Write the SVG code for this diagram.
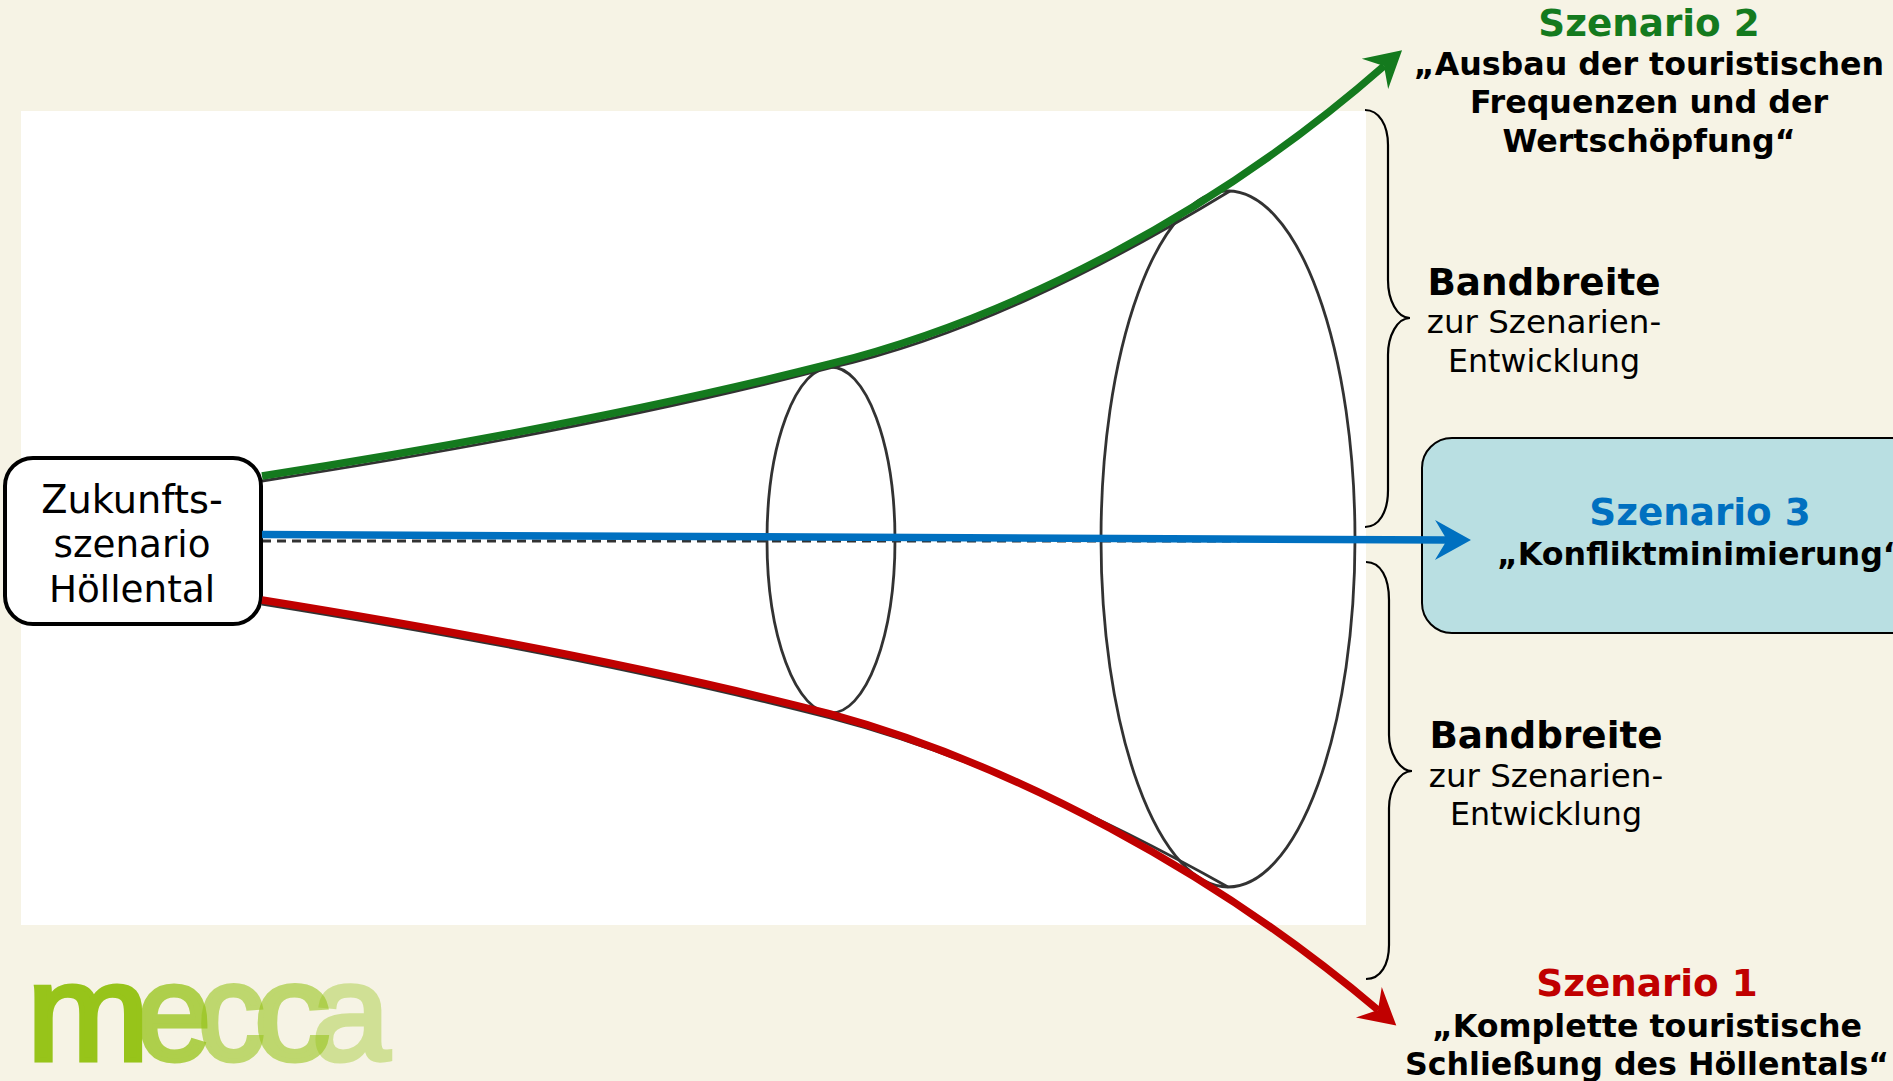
<svg xmlns="http://www.w3.org/2000/svg" width="1893" height="1081" viewBox="0 0 1893 1081">
<style>
text{font-family:"DejaVu Sans",Verdana,sans-serif;text-anchor:middle;fill:#000}
.h{font-size:37.300px;font-weight:700}
.b{font-size:31.700px;font-weight:700}
.r{font-size:32.500px}
.r2{font-size:31.700px}
.n{font-size:37.300px}
.box{stroke:#000}
.cone{fill:none;stroke:#333;stroke-width:2.800}
.brace{fill:none;stroke:#000;stroke-width:2.200}
.conn{fill:none;stroke-width:7.500}
.logo{font-family:"Liberation Sans",Arial,sans-serif;font-size:137px;text-anchor:start;stroke-width:5px;fill:#97C41A;stroke:#97C41A}
</style>
<defs>
<filter id="soft" x="-5%" y="-5%" width="110%" height="110%"><feGaussianBlur stdDeviation="0.6"/></filter>
<marker id="hg" markerUnits="userSpaceOnUse" markerWidth="40" markerHeight="44" refX="13" refY="22" orient="auto"><path d="M1,2 L37,22 L1,42 L13,22 Z" fill="#147A1E"/></marker>
<marker id="hb" markerUnits="userSpaceOnUse" markerWidth="40" markerHeight="44" refX="13" refY="22" orient="auto"><path d="M1,2 L37,22 L1,42 L13,22 Z" fill="#0070C0"/></marker>
<marker id="hr" markerUnits="userSpaceOnUse" markerWidth="40" markerHeight="44" refX="13" refY="22" orient="auto"><path d="M1,2 L37,22 L1,42 L13,22 Z" fill="#C00000"/></marker>
</defs>
<rect width="1893" height="1081" fill="#F6F3E5"/>
<rect x="21" y="111" width="1345" height="814" fill="#fff"/>
<g id="funnel" filter="url(#soft)">
<ellipse class="cone" cx="831" cy="540" rx="64" ry="173"/>
<ellipse class="cone" cx="1228" cy="539" rx="127" ry="348"/>
<path class="cone" d="M262,481 C480,447 680,407 830,368 C960,338 1090,276 1230,191"/>
<path class="cone" d="M262,604 C480,639 680,679 830,718 C960,752 1100,815 1228,887"/>
<path class="cone" stroke-dasharray="9 6" d="M262,541 L1240,541"/>
</g>
<g id="braces">
<path class="brace" d="M1365,110 C1379,110 1388,125 1388,145 L1388,280 C1388,300 1397,318 1410,318 C1397,318 1388,336 1388,355 L1388,490 C1388,512 1379,527 1365,527"/>
<path class="brace" d="M1366,562 C1381,562 1389,578 1389,600 L1389,735 C1389,752 1399,771 1412,771 C1399,771 1389,790 1389,808 L1389,945 C1389,964 1381,979 1366,979"/>
</g>
<g id="node-start">
<rect class="box" x="5" y="458" width="256" height="166" rx="28" fill="#fff" stroke-width="4"/>
<text class="n" x="132" y="513" style="font-size:38.300px">Zukunfts-</text>
<text class="n" x="132" y="557">szenario</text>
<text class="n" x="132" y="602">Höllental</text>
</g>
<g id="node-szenario2">
<text class="h" x="1649" y="36" style="fill:#147A1E">Szenario 2</text>
<text class="b" x="1649" y="75">„Ausbau der touristischen</text>
<text class="b" x="1649" y="113">Frequenzen und der</text>
<text class="b" x="1649" y="152">Wertschöpfung“</text>
</g>
<g id="bandbreite-oben">
<text class="h" x="1544" y="295">Bandbreite</text>
<text class="r" x="1544" y="333">zur Szenarien-</text>
<text class="r2" x="1544" y="372">Entwicklung</text>
</g>
<g id="node-szenario3">
<rect class="box" x="1422" y="438" width="520" height="195" rx="30" fill="#B9DFE2" stroke-width="2"/>
<text class="h" x="1700" y="525" style="fill:#0070C0">Szenario 3</text>
<text class="b" x="1497" y="565" style="text-anchor:start">„Konfliktminimierung“</text>
</g>
<g id="bandbreite-unten">
<text class="h" x="1546" y="748">Bandbreite</text>
<text class="r" x="1546" y="787">zur Szenarien-</text>
<text class="r2" x="1546" y="825">Entwicklung</text>
</g>
<g id="node-szenario1">
<text class="h" x="1647" y="996" style="fill:#C00000">Szenario 1</text>
<text class="b" x="1647" y="1037">„Komplette touristische</text>
<text class="b" x="1647" y="1075">Schließung des Höllentals“</text>
</g>
<g id="connectors">
<path class="conn" stroke="#147A1E" marker-end="url(#hg)" d="M262,476 C480,442 680,402 830,364 C1010,319 1214,215 1384,66"/>
<path class="conn" stroke="#0070C0" marker-end="url(#hb)" d="M262,534.500 L1447,540"/>
<path class="conn" stroke="#C00000" marker-end="url(#hr)" d="M262,600 C480,635 680,675 830,714 C1010,763 1214,871 1378,1010"/>
</g>
<g id="logo">
<text class="logo" transform="translate(27,1059.500) scale(1.07,1)">m</text>
<text class="logo" transform="translate(137,1059.500) scale(0.97,1)" opacity="0.755">e</text>
<text class="logo" transform="translate(198,1059.500) scale(0.97,1)" opacity="0.585">c</text>
<text class="logo" transform="translate(254,1059.500) scale(1.11,1)" opacity="0.585">c</text>
<text class="logo" transform="translate(312,1059.500) scale(1.02,1)" opacity="0.39">a</text>
</g>
</svg>
